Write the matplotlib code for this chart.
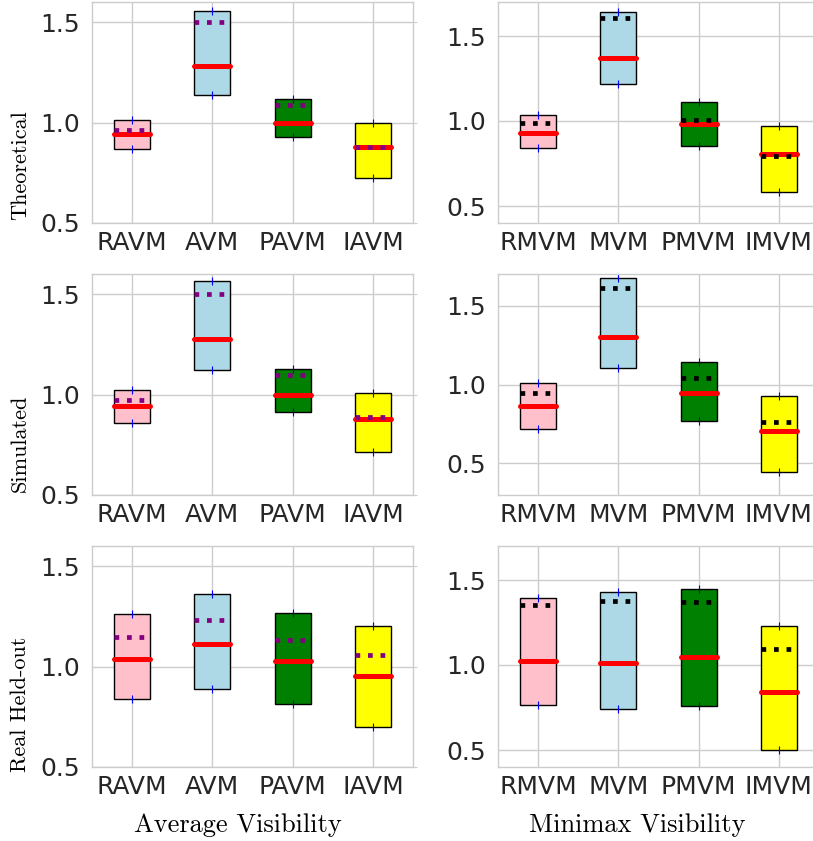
import matplotlib
matplotlib.use("Agg")
import matplotlib.pyplot as plt

avg_labels = ["RAVM", "AVM", "PAVM", "IAVM"]
mm_labels = ["RMVM", "MVM", "PMVM", "IMVM"]
row_labels = ["Theoretical", "Simulated", "Real Held-out"]
col_labels = ["Average Visibility", "Minimax Visibility"]
box_colors = ["pink", "lightblue", "green", "yellow"]

# Theoretical
th_avg_q1 = [0.870, 1.138, 0.928, 0.723]
th_avg_q3 = [1.015, 1.555, 1.115, 0.998]
th_avg_med = [0.942, 1.283, 1.000, 0.877]
th_avg_mean = [0.965, 1.498, 1.088, 0.878]

th_mm_q1 = [0.844, 1.218, 0.852, 0.581]
th_mm_q3 = [1.037, 1.644, 1.114, 0.970]
th_mm_med = [0.931, 1.368, 0.980, 0.805]
th_mm_mean = [0.986, 1.604, 1.008, 0.795]

# Simulated
si_avg_q1 = [0.859, 1.124, 0.911, 0.714]
si_avg_q3 = [1.025, 1.565, 1.129, 1.008]
si_avg_med = [0.942, 1.278, 1.000, 0.876]
si_avg_mean = [0.972, 1.502, 1.096, 0.886]

si_mm_q1 = [0.720, 1.104, 0.767, 0.447]
si_mm_q3 = [1.008, 1.672, 1.144, 0.930]
si_mm_med = [0.862, 1.299, 0.945, 0.706]
si_mm_mean = [0.943, 1.610, 1.044, 0.761]

# Real held-out
re_avg_q1 = [0.837, 0.889, 0.812, 0.701]
re_avg_q3 = [1.264, 1.359, 1.267, 1.203]
re_avg_med = [1.038, 1.110, 1.030, 0.952]
re_avg_mean = [1.148, 1.231, 1.133, 1.056]

re_mm_q1 = [0.765, 0.743, 0.759, 0.498]
re_mm_q3 = [1.396, 1.431, 1.447, 1.227]
re_mm_med = [1.022, 1.014, 1.047, 0.841]
re_mm_mean = [1.351, 1.378, 1.371, 1.094]

ylims = [[(0.5, 1.6), (0.4, 1.7)],
         [(0.5, 1.6), (0.3, 1.7)],
         [(0.5, 1.6), (0.4, 1.7)]]

data = [
    [(th_avg_q1, th_avg_q3, th_avg_med, th_avg_mean), (th_mm_q1, th_mm_q3, th_mm_med, th_mm_mean)],
    [(si_avg_q1, si_avg_q3, si_avg_med, si_avg_mean), (si_mm_q1, si_mm_q3, si_mm_med, si_mm_mean)],
    [(re_avg_q1, re_avg_q3, re_avg_med, re_avg_mean), (re_mm_q1, re_mm_q3, re_mm_med, re_mm_mean)],
]

fig = plt.figure(figsize=(8.13, 8.41), dpi=100)
W, H = 813, 841
row_tops = [2, 274, 546]
col_lefts = [92, 498]
aw, ah = 321, 221
ylabel_y = [0.26, 0.235, 0.285]
xlabel_x = [0.455, 0.433]

for r in range(3):
    for c in range(2):
        ax = fig.add_axes([col_lefts[c] / W, 1 - (row_tops[r] + ah) / H, aw / W, ah / H])
        q1, q3, med, mean = data[r][c]
        labels = avg_labels if c == 0 else mm_labels
        mean_color = "purple" if c == 0 else "black"
        stats = []
        for i in range(4):
            stats.append(dict(med=med[i], q1=q1[i], q3=q3[i], whislo=q1[i], whishi=q3[i],
                              mean=mean[i], fliers=[q1[i], q3[i]], label=labels[i]))
        bp = ax.bxp(stats, positions=[1, 2, 3, 4], widths=0.45, patch_artist=True,
                    showmeans=True, meanline=True, showcaps=False,
                    boxprops=dict(edgecolor="black", linewidth=1.0),
                    whiskerprops=dict(linewidth=0),
                    medianprops=dict(color="red", linewidth=3.6, solid_capstyle="round"),
                    meanprops=dict(color=mean_color, linewidth=3.4, linestyle=":"),
                    flierprops=dict(marker="|", markeredgecolor="blue", markersize=6,
                                    markeredgewidth=0.8, linestyle="none"))
        for patch, col in zip(bp["boxes"], box_colors):
            patch.set_facecolor(col)
        ax.set_xlim(0.5, 4.5)
        ax.set_ylim(*ylims[r][c])
        ax.set_yticks([0.5, 1.0, 1.5])
        ax.set_yticklabels(["0.5", "1.0", "1.5"])
        ax.set_axisbelow(True)
        ax.grid(True, color="#cccccc", linewidth=1)
        for s in ax.spines.values():
            s.set_color("#cccccc")
            s.set_linewidth(1)
        ax.tick_params(axis="both", labelsize=18, labelcolor="#262626", length=0, pad=6)
        ax.tick_params(axis="y", right=True, length=3, color="#cccccc", direction="out",
                       left=False)
        ax.tick_params(axis="x", length=0)
        if c == 0:
            ax.set_ylabel(row_labels[r], fontfamily="cmr10", fontsize=16, va="center")
            ax.yaxis.set_label_coords(-0.223, ylabel_y[r])
        if r == 2:
            ax.set_xlabel(col_labels[c], fontfamily="cmr10", fontsize=19, va="center")
            ax.xaxis.set_label_coords(xlabel_x[c], -0.265)

fig.savefig("out.png", dpi=100)
